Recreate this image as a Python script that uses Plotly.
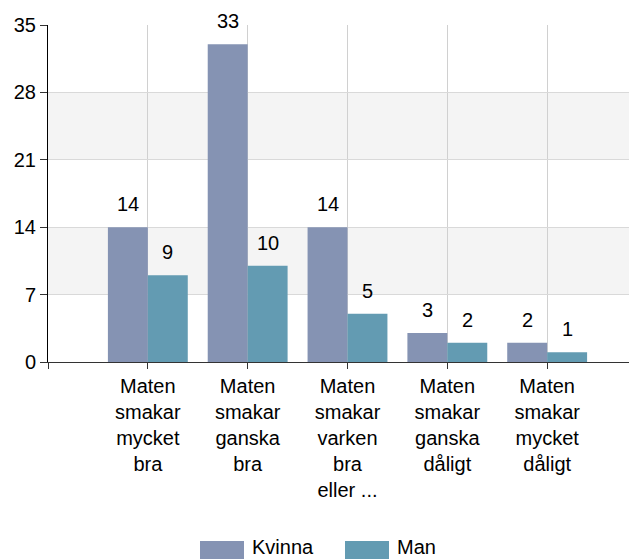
import plotly.graph_objects as go

# Category labels (x axis) and counts per gender
categories = [
    "Maten<br>smakar<br>mycket<br>bra",
    "Maten<br>smakar<br>ganska<br>bra",
    "Maten<br>smakar<br>varken<br>bra<br>eller ...",
    "Maten<br>smakar<br>ganska<br>dåligt",
    "Maten<br>smakar<br>mycket<br>dåligt",
]
kvinna = [14, 33, 14, 3, 2]
man = [9, 10, 5, 2, 1]
y_ticks = [0, 7, 14, 21, 28, 35]

series = [("Kvinna", kvinna, "#8593B3"), ("Man", man, "#639BB2")]

pos = list(range(len(categories)))
font = "Liberation Sans, Arial, sans-serif"
bar_w = 0.4

W, H = 637, 559
L, R, T, B = 40, 0, 17, 205
pw, ph = W - L - R, H - T - B


def px(x):  # figure pixel -> paper x
    return (x - L) / pw


def py(y):  # figure pixel -> paper y
    return (H - B - y) / ph


fig = go.Figure()
for k, (name, vals, col) in enumerate(series):
    off = (k - 0.5) * bar_w
    fig.add_trace(go.Bar(x=pos, y=vals, name=name, marker_color=col,
                         marker_line_width=0, showlegend=False))
    # value labels above each bar
    for p, v in zip(pos, vals):
        fig.add_annotation(x=p + off, y=v, text=str(v), showarrow=False,
                           yanchor="bottom", yshift=10, font=dict(size=20, color="black"))

# alternating background bands
for lo, hi in [(7, 14), (21, 28)]:
    fig.add_shape(type="rect", xref="paper", yref="y", x0=0, x1=1, y0=lo, y1=hi,
                  fillcolor="#F4F4F4", line_width=0, layer="below")

# legend drawn by hand (wide swatches at the bottom)
legend_x = [192, 337]
for (name, vals, col), lx in zip(series, legend_x):
    fig.add_shape(type="rect", xref="paper", yref="paper",
                  x0=px(lx), x1=px(lx + 44), y0=py(553), y1=py(533),
                  fillcolor=col, line_width=0)
    fig.add_annotation(xref="paper", yref="paper", x=px(lx + 50), y=py(539),
                       text=name, showarrow=False, xanchor="left", yanchor="middle",
                       font=dict(size=20, color="black"))

fig.update_layout(
    width=W, height=H,
    margin=dict(l=L, r=R, t=T, b=B),
    paper_bgcolor="white", plot_bgcolor="white",
    barmode="group", bargap=0.2, bargroupgap=0,
    font=dict(family=font, size=20, color="black"),
    showlegend=False,
    xaxis=dict(
        range=[-1, 4.98], tickvals=[-1] + pos, ticktext=[""] + categories,
        showgrid=True, gridcolor="#D0D0D0", gridwidth=1,
        showline=True, linecolor="#333333", linewidth=1,
        ticks="outside", ticklen=6, tickcolor="#333333",
        tickfont=dict(size=20), zeroline=False, automargin=False,
    ),
    yaxis=dict(
        range=[0, 35], tickvals=y_ticks,
        showgrid=True, gridcolor="#D9D9D9", gridwidth=1,
        showline=True, linecolor="black", linewidth=1,
        ticks="outside", ticklen=7, tickcolor="#333333",
        tickfont=dict(size=20), zeroline=False, automargin=False,
    ),
)

fig.write_html("out.html")
